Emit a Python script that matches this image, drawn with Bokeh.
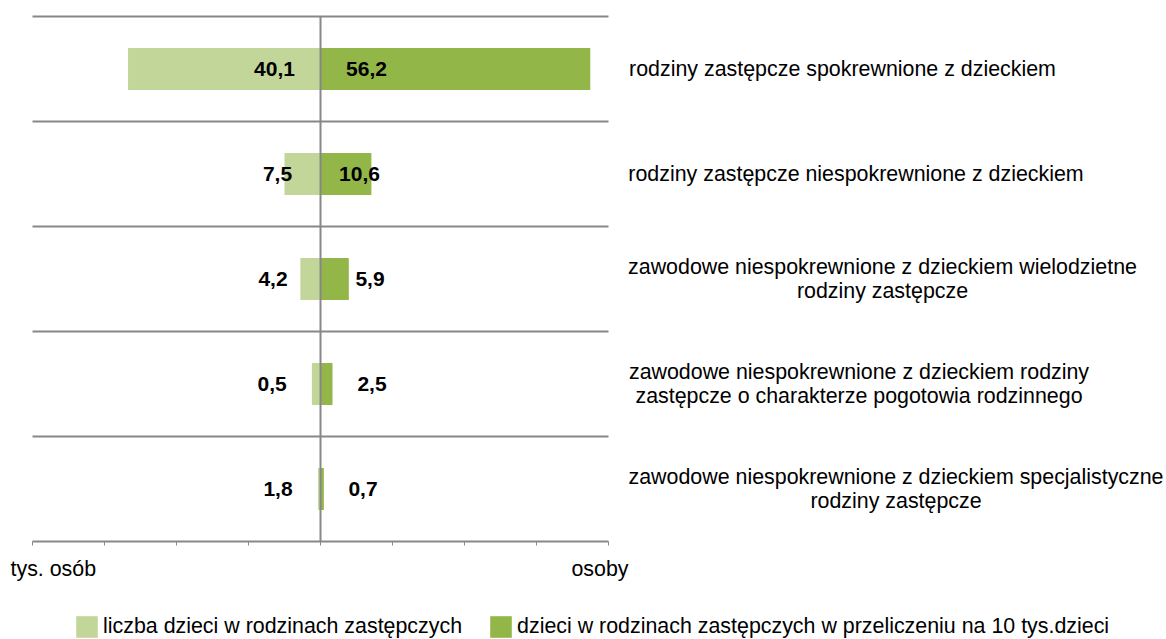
from bokeh.plotting import figure
from bokeh.models import Range1d, Legend, LegendItem, ColumnDataSource
from bokeh.embed import file_html
from bokeh.resources import INLINE
from bokeh.core.properties import value

# ---------------- data ----------------
categories = [
    "rodziny zastępcze spokrewnione z dzieckiem",
    "rodziny zastępcze niespokrewnione z dzieckiem",
    "zawodowe niespokrewnione z dzieckiem wielodzietne\nrodziny zastępcze",
    "zawodowe niespokrewnione z dzieckiem rodziny\nzastępcze o charakterze pogotowia rodzinnego",
    "zawodowe niespokrewnione z dzieckiem specjalistyczne\nrodziny zastępcze",
]
# value labels as printed on the chart
children_thousands_labels = [40.1, 7.5, 4.2, 0.5, 1.8]
per_10k_labels = [56.2, 10.6, 5.9, 2.5, 0.7]
# bar lengths
children_thousands_bars = [40.1, 7.5, 4.2, 1.8, 0.5]
per_10k_bars = [56.2, 10.6, 5.9, 2.5, 0.7]

series_names = ["liczba dzieci w rodzinach zastępczych",
                "dzieci w rodzinach zastępczych w przeliczeniu na 10 tys.dzieci"]
x_ticks = [-60, -45, -30, -15, 0, 15, 30, 45, 60]
left_unit = "tys. osób"
right_unit = "osoby"

# ---------------- styles / layout ----------------
LIGHT = "#C2D69A"
DARK = "#93B649"
GRAY = "#878787"
FONT = "Liberation Sans"
FS_VAL = "21px"
FS = "21.4px"

W, H = 1166, 639
PX_X = 4.8          # pixels per data unit (x)
PX_Y = 105.0        # pixels per row (y)
X0_PX = 320         # pixel position of x = 0
TOP_PX, BOT_PX = 16, 541

# label pixel offsets from the central line (centre of each label)
left_label_dx = [-46, -43, -47.5, -48.3, -42.5]
right_label_dx = [46, 39, 49.5, 51.5, 42.5]
# category text block centres (pixels)
cat_center_px = [842, 855.5, 882, 858.5, 895.5]

n = len(categories)
ys = [n - i - 0.5 for i in range(n)]
xmin, xmax = x_ticks[0], x_ticks[-1]


def fmt(v):
    return f"{v:.1f}".replace(".", ",")


src = ColumnDataSource(dict(
    y=ys,
    lneg=[-v for v in children_thousands_bars],
    r=per_10k_bars,
    lab_l=[fmt(v) for v in children_thousands_labels],
    lab_r=[fmt(v) for v in per_10k_labels],
    dxl=left_label_dx,
    dxr=right_label_dx,
))

x_range = Range1d(-X0_PX / PX_X, (W - X0_PX) / PX_X)
y_range = Range1d(-(H - BOT_PX) / PX_Y, n + TOP_PX / PX_Y)

p = figure(width=W, height=H, x_range=x_range, y_range=y_range,
           output_backend="svg", toolbar_location=None, min_border=0)
p.outline_line_color = None
p.xaxis.visible = False
p.yaxis.visible = False
p.grid.visible = False

# row separators (includes top line and axis baseline)
sep_y = list(range(n + 1))
p.segment(x0=[xmin] * len(sep_y), x1=[xmax] * len(sep_y), y0=sep_y, y1=sep_y,
          line_color=GRAY, line_width=2)
# tick marks on the baseline
tick_len = 4 / PX_Y
p.segment(x0=x_ticks, x1=x_ticks, y0=[0] * len(x_ticks), y1=[-tick_len] * len(x_ticks),
          line_color=GRAY, line_width=1)

rl = p.hbar(y="y", left="lneg", right=0, height=0.4, source=src,
            fill_color=LIGHT, line_color=None)
rr = p.hbar(y="y", left=0, right="r", height=0.4, source=src,
            fill_color=DARK, line_color=None)

# central vertical axis line
p.segment(x0=[0], x1=[0], y0=[0], y1=[n], line_color=GRAY, line_width=2)

p.text(x=0, y="y", text="lab_l", source=src, x_offset="dxl", text_align="center",
       text_baseline="middle", text_font=value(FONT), text_font_style="bold",
       text_font_size=FS_VAL, text_color="black")
p.text(x=0, y="y", text="lab_r", source=src, x_offset="dxr", text_align="center",
       text_baseline="middle", text_font=value(FONT), text_font_style="bold",
       text_font_size=FS_VAL, text_color="black")

# category labels to the right of the plot
p.text(x=[(c - X0_PX) / PX_X for c in cat_center_px], y=ys, text=categories,
       text_align="center", text_baseline="middle", text_font=value(FONT),
       text_font_size=FS, text_color="black", text_line_height=1.0)

unit_y = -27 / PX_Y
p.text(x=[(10 - X0_PX) / PX_X], y=[unit_y], text=[left_unit], text_align="left",
       text_baseline="middle", text_font=value(FONT), text_font_size=FS,
       text_color="black")
p.text(x=[(628 - X0_PX) / PX_X], y=[unit_y], text=[right_unit], text_align="right",
       text_baseline="middle", text_font=value(FONT), text_font_size=FS,
       text_color="black")

legend = Legend(items=[LegendItem(label=series_names[0], renderers=[rl]),
                       LegendItem(label=series_names[1], renderers=[rr])],
                location=(73, -1), orientation="horizontal",
                glyph_width=27, glyph_height=27, label_standoff=3, spacing=25,
                padding=0, margin=0, border_line_color=None,
                background_fill_alpha=0, label_text_font=FONT,
                label_text_font_size=FS, label_text_color="black")
p.add_layout(legend)

open("out.html", "w").write(file_html(p, INLINE))
